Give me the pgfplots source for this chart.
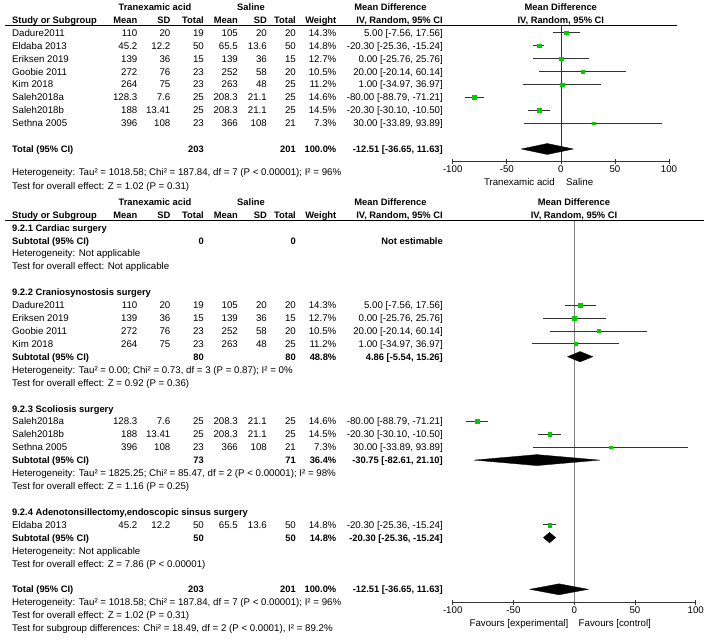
\documentclass[border=0pt]{standalone}
\usepackage{fontspec}
\setmainfont{Liberation Sans}
\usepackage{pgfplots}
\pgfplotsset{compat=1.18}
\definecolor{sqgreen}{RGB}{0,205,0}
\definecolor{cigray}{RGB}{50,50,50}
\definecolor{zgray}{RGB}{130,130,130}
\newcommand{\fs}{\fontsize{9.7}{11}\selectfont}
\newcommand{\B}{\fontsize{9.35}{11}\selectfont\bfseries}
\newcommand{\TL}[3]{\node[anchor=mid west] at (#1,#2) {#3};}
\newcommand{\TR}[3]{\node[anchor=mid east] at (#1,#2) {#3};}
\newcommand{\TC}[3]{\node[anchor=mid] at (#1,#2) {#3};}
\newcommand{\SR}[8]{\TL{12}{#1}{#2}\TR{137.5}{#1}{#3}\TR{170.5}{#1}{#4}\TR{204}{#1}{#5}\TR{238}{#1}{#6}\TR{267}{#1}{#7}\TR{296}{#1}{#8}}
\newcommand{\WM}[3]{\TR{336.5}{#1}{#2}\TR{443}{#1}{#3}}
\newcommand{\HDR}[1]{%
  \TC{155}{#1}{\B Tranexamic acid}\TC{251}{#1}{\B Saline}%
  \TC{390.5}{#1}{\B Mean Difference}}
\newcommand{\HDRB}[1]{%
  \TL{12}{#1}{\B Study or Subgroup}\TR{137.5}{#1}{\B Mean}\TR{170.5}{#1}{\B SD}%
  \TR{204}{#1}{\B Total}\TR{238}{#1}{\B Mean}\TR{267}{#1}{\B SD}%
  \TR{296}{#1}{\B Total}\TR{336.5}{#1}{\B Weight}\TC{399.5}{#1}{\B IV, Random, 95\% CI}}
\pgfplotsset{
  forest/.style={scale only axis, clip=false, xmin=-100, xmax=100,
    axis x line*=bottom, axis y line=none,
    x axis line style={-, cigray, line width=0.7pt},
    xtick={-100,-50,0,50,100}, xticklabels={-100,-50,0,50,100},
    tick align=center, major tick length=4.5pt,
    major tick style={cigray, line width=0.7pt},
    xticklabel style={font=\fs, inner sep=1.5pt}, ytick=\empty},
  ci/.style={cigray, line width=0.75pt, mark=none, forget plot},
  sq/.style={only marks, mark=square*, mark options={draw=sqgreen, fill=sqgreen, line width=0.1pt}, mark size=#1, forget plot},
  dm/.style={fill=black, draw=black, line width=0.3pt, mark=none, forget plot}
}
\begin{document}
\begin{tikzpicture}
\fill[white, use as bounding box] (0,0) rectangle (708pt,-639pt);
% ---------------- top forest ----------------
\begin{axis}[forest, at={(452.7pt,-161.5pt)}, anchor=south west,
  width=216.3pt, height=136pt, ymin=-161.5, ymax=-25.5]
\addplot[ci, cigray, line width=0.7pt] coordinates {(0,-25.5) (0,-161.5)};
\addplot[ci] coordinates {(-7.56,-32.5) (17.56,-32.5)};
\addplot[ci] coordinates {(-25.36,-45.45) (-15.24,-45.45)};
\addplot[ci] coordinates {(-25.76,-58.4) (25.76,-58.4)};
\addplot[ci] coordinates {(-20.14,-71.35) (60.14,-71.35)};
\addplot[ci] coordinates {(-34.97,-84.3) (36.97,-84.3)};
\addplot[ci] coordinates {(-88.79,-97.25) (-71.21,-97.25)};
\addplot[ci] coordinates {(-30.10,-110.2) (-10.50,-110.2)};
\addplot[ci] coordinates {(-33.89,-123.15) (93.89,-123.15)};
\addplot[sq=1.82] coordinates {(5.00,-32.5)};
\addplot[sq=1.85] coordinates {(-20.30,-45.45)};
\addplot[sq=1.71] coordinates {(0.00,-58.4)};
\addplot[sq=1.56] coordinates {(20.00,-71.35)};
\addplot[sq=1.61] coordinates {(1.00,-84.3)};
\addplot[sq=1.84] coordinates {(-80.00,-97.25)};
\addplot[sq=1.83] coordinates {(-20.30,-110.2)};
\addplot[sq=1.30] coordinates {(30.00,-123.15)};
\addplot[dm] coordinates {(-36.65,-149) (-12.51,-143.5) (11.63,-149) (-12.51,-154.5) (-36.65,-149)};
\end{axis}
% ---------------- bottom forest ----------------
\begin{axis}[forest, at={(452.7pt,-602.3pt)}, anchor=south west,
  width=243pt, height=381.8pt, ymin=-602.3, ymax=-220.5]
\addplot[ci, zgray, line width=1.2pt] coordinates {(0,-220.5) (0,-602.3)};
\addplot[ci] coordinates {(-7.56,-305.0) (17.56,-305.0)};
\addplot[ci] coordinates {(-25.76,-317.9) (25.76,-317.9)};
\addplot[ci] coordinates {(-20.14,-330.9) (60.14,-330.9)};
\addplot[ci] coordinates {(-34.97,-343.8) (36.97,-343.8)};
\addplot[ci] coordinates {(-88.79,-421.3) (-71.21,-421.3)};
\addplot[ci] coordinates {(-30.10,-434.2) (-10.50,-434.2)};
\addplot[ci] coordinates {(-33.89,-447.1) (93.89,-447.1)};
\addplot[ci] coordinates {(-25.36,-524.7) (-15.24,-524.7)};
\addplot[sq=1.82] coordinates {(5.00,-305.0)};
\addplot[sq=1.71] coordinates {(0.00,-317.9)};
\addplot[sq=1.56] coordinates {(20.00,-330.9)};
\addplot[sq=1.61] coordinates {(1.00,-343.8)};
\addplot[sq=1.84] coordinates {(-80.00,-421.3)};
\addplot[sq=1.83] coordinates {(-20.30,-434.2)};
\addplot[sq=1.30] coordinates {(30.00,-447.1)};
\addplot[sq=1.85] coordinates {(-20.30,-524.7)};
\addplot[dm] coordinates {(-5.54,-356.7) (4.86,-351.5) (15.26,-356.7) (4.86,-361.9) (-5.54,-356.7)};
\addplot[dm] coordinates {(-82.61,-460.1) (-30.75,-454.6) (21.10,-460.1) (-30.75,-465.6) (-82.61,-460.1)};
\addplot[dm] coordinates {(-25.36,-537.6) (-20.30,-532.4) (-15.24,-537.6) (-20.30,-542.8) (-25.36,-537.6)};
\addplot[dm] coordinates {(-36.65,-589.3) (-12.51,-583.8) (11.63,-589.3) (-12.51,-594.8) (-36.65,-589.3)};
\end{axis}
% ---------------- text ----------------
\begin{scope}[x=1pt, y=-1pt, every node/.style={inner sep=0pt, font=\fs}]
% top table
\HDR{8}\TC{560.8}{8}{\B Mean Difference}
\HDRB{21}\TC{560.8}{21}{\B IV, Random, 95\% CI}
\draw[line width=0.8pt] (5,25.5) -- (677,25.5);
\SR{33.5}{Dadure2011}{110}{20}{19}{105}{20}{20}\WM{33.5}{14.3\%}{5.00 [-7.56, 17.56]}
\SR{46.5}{Eldaba 2013}{45.2}{12.2}{50}{65.5}{13.6}{50}\WM{46.5}{14.8\%}{-20.30 [-25.36, -15.24]}
\SR{59.4}{Eriksen 2019}{139}{36}{15}{139}{36}{15}\WM{59.4}{12.7\%}{0.00 [-25.76, 25.76]}
\SR{72.4}{Goobie 2011}{272}{76}{23}{252}{58}{20}\WM{72.4}{10.5\%}{20.00 [-20.14, 60.14]}
\SR{85.3}{Kim 2018}{264}{75}{23}{263}{48}{25}\WM{85.3}{11.2\%}{1.00 [-34.97, 36.97]}
\SR{98.3}{Saleh2018a}{128.3}{7.6}{25}{208.3}{21.1}{25}\WM{98.3}{14.6\%}{-80.00 [-88.79, -71.21]}
\SR{111.2}{Saleh2018b}{188}{13.41}{25}{208.3}{21.1}{25}\WM{111.2}{14.5\%}{-20.30 [-30.10, -10.50]}
\SR{124.2}{Sethna 2005}{396}{108}{23}{366}{108}{21}\WM{124.2}{7.3\%}{30.00 [-33.89, 93.89]}
\TL{12}{150}{\B Total (95\% CI)}\TR{204}{150}{\B 203}\TR{296}{150}{\B 201}
\WM{150}{\B 100.0\%}{\B -12.51 [-36.65, 11.63]}
\TL{12}{173}{Heterogeneity: Tau² = 1018.58; Chi² = 187.84, df = 7 (P < 0.00001); I² = 96\%}
\TL{12}{186.5}{Test for overall effect: Z = 1.02 (P = 0.31)}
\TR{555}{183}{Tranexamic acid}\TL{566}{183}{Saline}
% bottom table
\HDR{203}\TC{574}{203}{\B Mean Difference}
\HDRB{216}\TC{574}{216}{\B IV, Random, 95\% CI}
\draw[line width=0.8pt] (5,220.5) -- (704,220.5);
\TL{12}{228.5}{\B 9.2.1 Cardiac surgery}
\TL{12}{241.4}{\B Subtotal (95\% CI)}\TR{204}{241.4}{\B 0}\TR{296}{241.4}{\B 0}\TR{443}{241.4}{\B Not estimable}
\TL{12}{254.3}{Heterogeneity: Not applicable}
\TL{12}{267.3}{Test for overall effect: Not applicable}
\TL{12}{293.1}{\B 9.2.2 Craniosynostosis surgery}
\SR{306.0}{Dadure2011}{110}{20}{19}{105}{20}{20}\WM{306.0}{14.3\%}{5.00 [-7.56, 17.56]}
\SR{318.9}{Eriksen 2019}{139}{36}{15}{139}{36}{15}\WM{318.9}{12.7\%}{0.00 [-25.76, 25.76]}
\SR{331.9}{Goobie 2011}{272}{76}{23}{252}{58}{20}\WM{331.9}{10.5\%}{20.00 [-20.14, 60.14]}
\SR{344.8}{Kim 2018}{264}{75}{23}{263}{48}{25}\WM{344.8}{11.2\%}{1.00 [-34.97, 36.97]}
\TL{12}{357.7}{\B Subtotal (95\% CI)}\TR{204}{357.7}{\B 80}\TR{296}{357.7}{\B 80}
\WM{357.7}{\B 48.8\%}{\B 4.86 [-5.54, 15.26]}
\TL{12}{370.6}{Heterogeneity: Tau² = 0.00; Chi² = 0.73, df = 3 (P = 0.87); I² = 0\%}
\TL{12}{383.5}{Test for overall effect: Z = 0.92 (P = 0.36)}
\TL{12}{409.4}{\B 9.2.3 Scoliosis surgery}
\SR{422.3}{Saleh2018a}{128.3}{7.6}{25}{208.3}{21.1}{25}\WM{422.3}{14.6\%}{-80.00 [-88.79, -71.21]}
\SR{435.2}{Saleh2018b}{188}{13.41}{25}{208.3}{21.1}{25}\WM{435.2}{14.5\%}{-20.30 [-30.10, -10.50]}
\SR{448.1}{Sethna 2005}{396}{108}{23}{366}{108}{21}\WM{448.1}{7.3\%}{30.00 [-33.89, 93.89]}
\TL{12}{461.1}{\B Subtotal (95\% CI)}\TR{204}{461.1}{\B 73}\TR{296}{461.1}{\B 71}
\WM{461.1}{\B 36.4\%}{\B -30.75 [-82.61, 21.10]}
\TL{12}{474.0}{Heterogeneity: Tau² = 1825.25; Chi² = 85.47, df = 2 (P < 0.00001); I² = 98\%}
\TL{12}{486.9}{Test for overall effect: Z = 1.16 (P = 0.25)}
\TL{12}{512.7}{\B 9.2.4 Adenotonsillectomy,endoscopic sinsus surgery}
\SR{525.7}{Eldaba 2013}{45.2}{12.2}{50}{65.5}{13.6}{50}\WM{525.7}{14.8\%}{-20.30 [-25.36, -15.24]}
\TL{12}{538.6}{\B Subtotal (95\% CI)}\TR{204}{538.6}{\B 50}\TR{296}{538.6}{\B 50}
\WM{538.6}{\B 14.8\%}{\B -20.30 [-25.36, -15.24]}
\TL{12}{551.5}{Heterogeneity: Not applicable}
\TL{12}{564.4}{Test for overall effect: Z = 7.86 (P < 0.00001)}
\TL{12}{590.3}{\B Total (95\% CI)}\TR{204}{590.3}{\B 203}\TR{296}{590.3}{\B 201}
\WM{590.3}{\B 100.0\%}{\B -12.51 [-36.65, 11.63]}
\TL{12}{603.2}{Heterogeneity: Tau² = 1018.58; Chi² = 187.84, df = 7 (P < 0.00001); I² = 96\%}
\TL{12}{616.1}{Test for overall effect: Z = 1.02 (P = 0.31)}
\TL{12}{629.0}{Test for subgroup differences: Chi² = 18.49, df = 2 (P < 0.0001), I² = 89.2\%}
\TR{568.5}{624}{Favours [experimental]}\TL{578.5}{624}{Favours [control]}
\end{scope}
\end{tikzpicture}
\end{document}
